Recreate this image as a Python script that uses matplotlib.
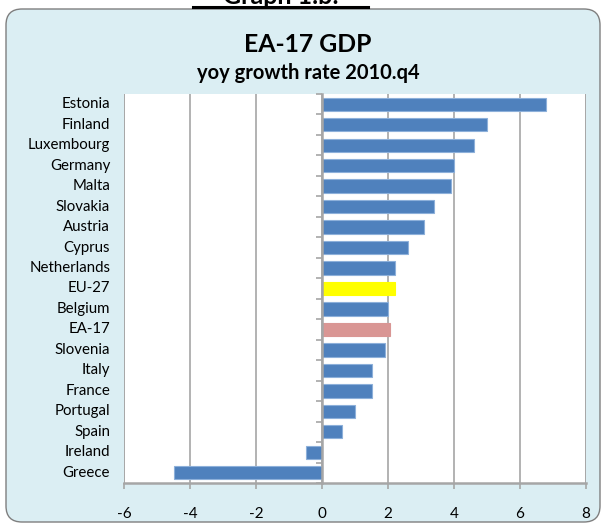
import numpy as np
import matplotlib
matplotlib.use('Agg')
import matplotlib.pyplot as plt
from matplotlib.patches import FancyBboxPatch
from matplotlib.lines import Line2D
import matplotlib.transforms as mtransforms

plt.rcParams['font.family'] = ['Lato', 'DejaVu Sans']

# Data (yoy GDP growth, 2010.q4)
countries = ['Estonia', 'Finland', 'Luxembourg', 'Germany', 'Malta', 'Slovakia',
             'Austria', 'Cyprus', 'Netherlands', 'EU-27', 'Belgium', 'EA-17',
             'Slovenia', 'Italy', 'France', 'Portugal', 'Spain', 'Ireland', 'Greece']
growth = [6.8, 5.0, 4.6, 4.0, 3.9, 3.4, 3.1, 2.6, 2.2, 2.2, 2.0, 2.05,
          1.9, 1.5, 1.5, 1.0, 0.6, -0.5, -4.5]
x_ticks = [-6, -4, -2, 0, 2, 4, 6, 8]

# Colours
BLUE = '#4F81BD'
highlight = {'EU-27': '#FFFF00', 'EA-17': '#D99694'}
colors = [highlight.get(c, BLUE) for c in countries]
edges = [highlight.get(c, '#8DB0DA') for c in countries]
GRID = '#A6A6A6'

W, H = 603, 531
fig = plt.figure(figsize=(W / 100, H / 100), dpi=100)
fig.patch.set_facecolor('white')

# rounded light-blue chart area
box = FancyBboxPatch((6 / 100, 9 / 100), 594 / 100, 513 / 100,
                     boxstyle='round,pad=0,rounding_size=0.16',
                     transform=fig.dpi_scale_trans, facecolor='#DBEEF3',
                     edgecolor='#7F7F7F', linewidth=1.0, zorder=-5)
fig.patches.append(box)

# clipped heading at the very top
fig.text(281 / W, 1 - 4 / H, 'Graph 1.b:', ha='center', va='baseline',
         fontsize=18, fontweight='bold')
fig.add_artist(Line2D([193 / W, 368 / W], [1 - 7 / H, 1 - 7 / H],
                      color='black', linewidth=2.2))

fig.text(308 / W, 1 - 44 / H, 'EA-17 GDP', ha='center', va='center',
         fontsize=17.8, fontweight='bold')
fig.text(308 / W, 1 - 73 / H, 'yoy growth rate 2010.q4', ha='center', va='center',
         fontsize=14.5, fontweight='bold')

left, right, top, bottom = 124, 586, 94, 483
ax = fig.add_axes([left / W, 1 - bottom / H, (right - left) / W, (bottom - top) / H])
ax.set_facecolor('white')

y = np.arange(len(countries))
ax.barh(y, growth, height=0.65, color=colors, edgecolor=edges, linewidth=0.8, zorder=3)

ax.set_xlim(-6, 8)
ax.set_ylim(len(countries) - 0.5, -0.5)

ax.set_xticks(x_ticks)
ax.set_xticklabels([str(t) for t in x_ticks], fontsize=11)
ax.tick_params(axis='x', direction='out', length=4, width=1.2, color=GRID, pad=13)
ax.grid(axis='x', color=GRID, linewidth=1.2, zorder=0)

for s in ['top', 'right']:
    ax.spines[s].set_visible(False)
ax.spines['bottom'].set_color(GRID)
ax.spines['bottom'].set_linewidth(1.8)
ax.axvline(-6, color=GRID, linewidth=1.2, zorder=1)
ax.axvline(8, color=GRID, linewidth=1.2, zorder=1)

# category axis sits at zero with ticks between the categories
ax.spines['left'].set_position(('data', 0))
ax.spines['left'].set_color(GRID)
ax.spines['left'].set_linewidth(1.8)
ax.spines['left'].set_zorder(4)
ax.set_yticks(np.arange(len(countries) + 1) - 0.5)
ax.set_yticklabels([])
ax.tick_params(axis='y', direction='out', length=4, width=1.2, color=GRID)

trans = mtransforms.blended_transform_factory(ax.transAxes, ax.transData)
for yi, name in zip(y, countries):
    ax.text(-0.03, yi, name, transform=trans, ha='right', va='center', fontsize=10.8)

fig.savefig('out.png', dpi=100)
